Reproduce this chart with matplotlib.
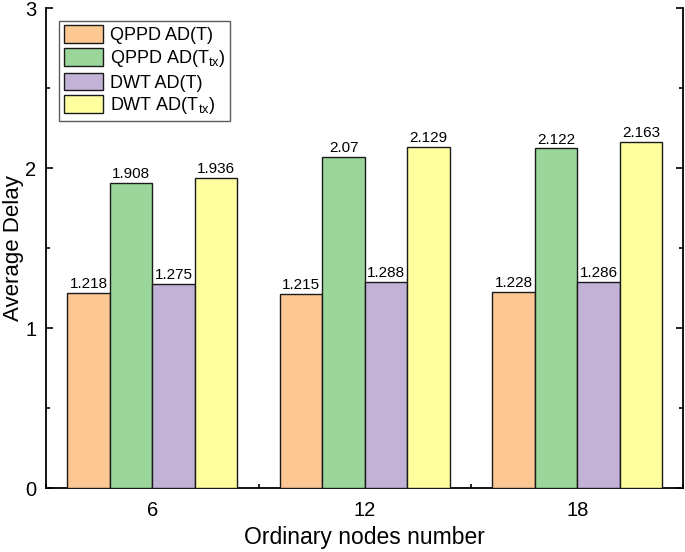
import numpy as np
import matplotlib
matplotlib.use('Agg')
import matplotlib.pyplot as plt
from matplotlib.ticker import MultipleLocator

nodes = ['6', '12', '18']
series_labels = ['QPPD AD(T)', r'QPPD AD(T$_{\mathregular{tx}}$)',
                 'DWT AD(T)', r'DWT AD(T$_{\mathregular{tx}}$)']
qppd_t = [1.218, 1.215, 1.228]
qppd_ttx = [1.908, 2.07, 2.122]
dwt_t = [1.275, 1.288, 1.286]
dwt_ttx = [1.936, 2.129, 2.163]
value_text = [['1.218', '1.215', '1.228'],
              ['1.908', '2.07', '2.122'],
              ['1.275', '1.288', '1.286'],
              ['1.936', '2.129', '2.163']]

COLORS = ['#fdc794', '#9bd79b', '#c2b2d6', '#ffffa0']

plt.rcParams.update({
    'font.family': ['Liberation Sans', 'DejaVu Sans'],
    'mathtext.fontset': 'custom',
    'mathtext.rm': 'Liberation Sans',
    'xtick.direction': 'in',
    'ytick.direction': 'in',
})

fig = plt.figure(figsize=(6.85, 5.52), dpi=100)
ax = fig.add_axes([0.0672, 0.1159, 0.9306, 0.8696])

x = np.arange(len(nodes))
width = 0.2
all_series = [qppd_t, qppd_ttx, dwt_t, dwt_ttx]
for i, (vals, col, lab) in enumerate(zip(all_series, COLORS, series_labels)):
    pos = x + (i - 1.5) * width
    ax.bar(pos, vals, width, color=col, edgecolor='#1a1a1a', linewidth=1.0,
           label=lab, zorder=3)
    for p, v, t in zip(pos, vals, value_text[i]):
        ax.text(p, v + 0.012, t, ha='center', va='bottom', fontsize=11)

ax.set_xlim(-0.5, 2.5)
ax.set_ylim(0, 3)
ax.set_xticks(x)
ax.set_xticklabels(nodes)
ax.xaxis.set_minor_locator(MultipleLocator(0.5))
ax.yaxis.set_major_locator(MultipleLocator(1))
ax.yaxis.set_minor_locator(MultipleLocator(0.5))
ax.tick_params(axis='both', which='major', labelsize=14.5, length=5, width=1.2, pad=7)
ax.tick_params(axis='both', which='minor', length=3, width=1.2)
ax.tick_params(axis='x', which='major', length=0, pad=9)
ax.tick_params(axis='y', which='both', right=True)
ax.spines['top'].set_visible(False)
for s in ['left', 'right', 'bottom']:
    ax.spines[s].set_linewidth(1.3)

ax.set_xlabel('Ordinary nodes number', fontsize=16.5, labelpad=5)
ax.set_ylabel('Average Delay', fontsize=16)
ax.yaxis.set_label_coords(-0.035, 0.5)

leg = ax.legend(loc='upper left', bbox_to_anchor=(0.012, 0.985), fontsize=13,
                frameon=True, fancybox=False, edgecolor='#333333',
                handlelength=2.2, handleheight=1.15, labelspacing=0.2,
                borderpad=0.25, handletextpad=0.35, borderaxespad=0.3)
leg.get_frame().set_linewidth(1.0)

fig.savefig('out.png', dpi=100)
